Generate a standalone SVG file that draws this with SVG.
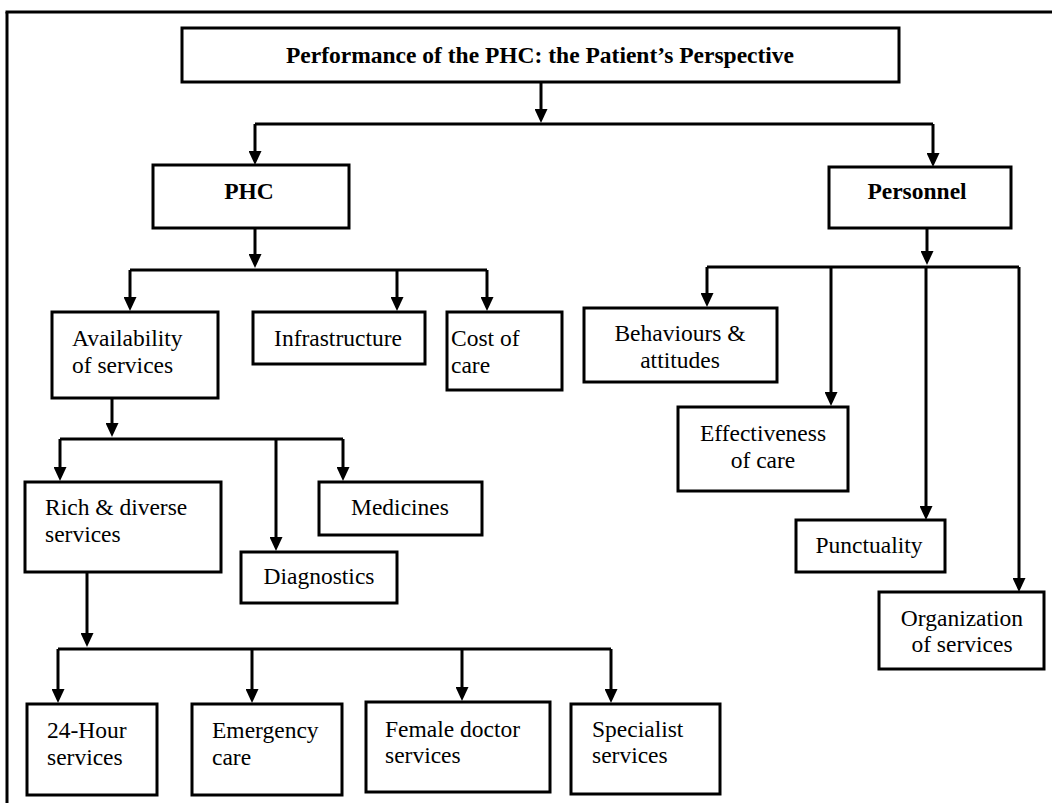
<svg xmlns="http://www.w3.org/2000/svg" width="1052" height="803" viewBox="0 0 1052 803">
<style>
.box{fill:#fff;stroke:#000;stroke-width:3}
.t{font-family:"Liberation Serif","Times New Roman",serif;font-size:23.5px;fill:#000}
.b{font-weight:bold;font-size:23.5px}
.m{text-anchor:middle}
.c line,.c path{stroke:#000;stroke-width:3;fill:none}
</style>
<defs>
<marker id="ah" markerUnits="userSpaceOnUse" viewBox="0 -6.5 14 13" markerWidth="14" markerHeight="13" refX="5" refY="0" orient="auto">
<path d="M0,-6.5 L14,0 L0,6.5 Z" fill="#000"/>
</marker>
</defs>
<rect width="1052" height="803" fill="#fff"/>
<g id="frame">
<line x1="5.5" y1="12" x2="1052" y2="12" stroke="#000" stroke-width="3"/>
<line x1="7" y1="12" x2="7" y2="803" stroke="#000" stroke-width="3"/>
</g>
<g class="c" id="connectors">
<line x1="541" y1="82" x2="541" y2="114" marker-end="url(#ah)"/>
<line x1="255" y1="124" x2="933" y2="124"/>
<line x1="255" y1="124" x2="255" y2="156" marker-end="url(#ah)"/>
<line x1="933" y1="124" x2="933" y2="158" marker-end="url(#ah)"/>

<line x1="255" y1="228" x2="255" y2="259" marker-end="url(#ah)"/>
<line x1="130" y1="270" x2="487" y2="270"/>
<line x1="130" y1="270" x2="130" y2="302" marker-end="url(#ah)"/>
<line x1="397" y1="270" x2="397" y2="302" marker-end="url(#ah)"/>
<line x1="487" y1="270" x2="487" y2="302" marker-end="url(#ah)"/>

<line x1="112" y1="398" x2="112" y2="428" marker-end="url(#ah)"/>
<line x1="60" y1="439" x2="343" y2="439"/>
<line x1="60" y1="439" x2="60" y2="472" marker-end="url(#ah)"/>
<line x1="276" y1="439" x2="276" y2="542" marker-end="url(#ah)"/>
<line x1="343" y1="439" x2="343" y2="472" marker-end="url(#ah)"/>

<line x1="87" y1="572" x2="87" y2="638" marker-end="url(#ah)"/>
<line x1="58" y1="649" x2="611" y2="649"/>
<line x1="58" y1="649" x2="58" y2="694" marker-end="url(#ah)"/>
<line x1="252" y1="649" x2="252" y2="694" marker-end="url(#ah)"/>
<line x1="462" y1="649" x2="462" y2="692" marker-end="url(#ah)"/>
<line x1="611" y1="649" x2="611" y2="694" marker-end="url(#ah)"/>

<line x1="927" y1="228" x2="927" y2="256" marker-end="url(#ah)"/>
<line x1="707" y1="267" x2="1019" y2="267"/>
<line x1="707" y1="267" x2="707" y2="298" marker-end="url(#ah)"/>
<line x1="831" y1="267" x2="831" y2="397" marker-end="url(#ah)"/>
<line x1="926" y1="267" x2="926" y2="511" marker-end="url(#ah)"/>
<line x1="1019" y1="267" x2="1019" y2="583" marker-end="url(#ah)"/>
</g>
<g id="title">
<rect class="box" x="182" y="28" width="717" height="54"/>
<text class="t b m" x="540" y="63">Performance of the PHC: the Patient’s Perspective</text>
</g>
<g id="phc">
<rect class="box" x="153" y="165" width="196" height="63"/>
<text class="t b m" x="249" y="199">PHC</text>
</g>
<g id="personnel">
<rect class="box" x="829" y="167" width="182" height="61"/>
<text class="t b m" x="917" y="199">Personnel</text>
</g>
<g id="availability">
<rect class="box" x="52" y="312" width="166" height="86"/>
<text class="t" x="72" y="346">Availability</text>
<text class="t" x="72" y="373">of services</text>
</g>
<g id="infrastructure">
<rect class="box" x="253" y="312" width="172" height="52"/>
<text class="t m" x="338" y="346">Infrastructure</text>
</g>
<g id="cost">
<rect class="box" x="447" y="312" width="115" height="78"/>
<text class="t" x="451" y="346">Cost of</text>
<text class="t" x="451" y="373">care</text>
</g>
<g id="rich">
<rect class="box" x="25" y="482" width="196" height="90"/>
<text class="t" x="45" y="515">Rich &amp; diverse</text>
<text class="t" x="45" y="542">services</text>
</g>
<g id="medicines">
<rect class="box" x="319" y="482" width="163" height="53"/>
<text class="t m" x="400" y="515">Medicines</text>
</g>
<g id="diagnostics">
<rect class="box" x="241" y="552" width="156" height="51"/>
<text class="t m" x="319" y="584">Diagnostics</text>
</g>
<g id="h24">
<rect class="box" x="27" y="704" width="130" height="91"/>
<text class="t" x="47" y="738">24-Hour</text>
<text class="t" x="47" y="765">services</text>
</g>
<g id="emergency">
<rect class="box" x="192" y="704" width="150" height="91"/>
<text class="t" x="212" y="738">Emergency</text>
<text class="t" x="212" y="765">care</text>
</g>
<g id="female">
<rect class="box" x="366" y="702" width="184" height="90"/>
<text class="t" x="385" y="737">Female doctor</text>
<text class="t" x="385" y="763">services</text>
</g>
<g id="specialist">
<rect class="box" x="571" y="704" width="149" height="90"/>
<text class="t" x="592" y="737">Specialist</text>
<text class="t" x="592" y="763">services</text>
</g>
<g id="behaviours">
<rect class="box" x="584" y="308" width="193" height="74"/>
<text class="t m" x="680" y="341">Behaviours &amp;</text>
<text class="t m" x="680" y="368">attitudes</text>
</g>
<g id="effectiveness">
<rect class="box" x="678" y="407" width="170" height="84"/>
<text class="t m" x="763" y="441">Effectiveness</text>
<text class="t m" x="763" y="468">of care</text>
</g>
<g id="punctuality">
<rect class="box" x="796" y="520" width="149" height="52"/>
<text class="t m" x="869" y="553">Punctuality</text>
</g>
<g id="organization">
<rect class="box" x="879" y="592" width="165" height="77"/>
<text class="t m" x="962" y="626">Organization</text>
<text class="t m" x="962" y="652">of services</text>
</g>
</svg>
